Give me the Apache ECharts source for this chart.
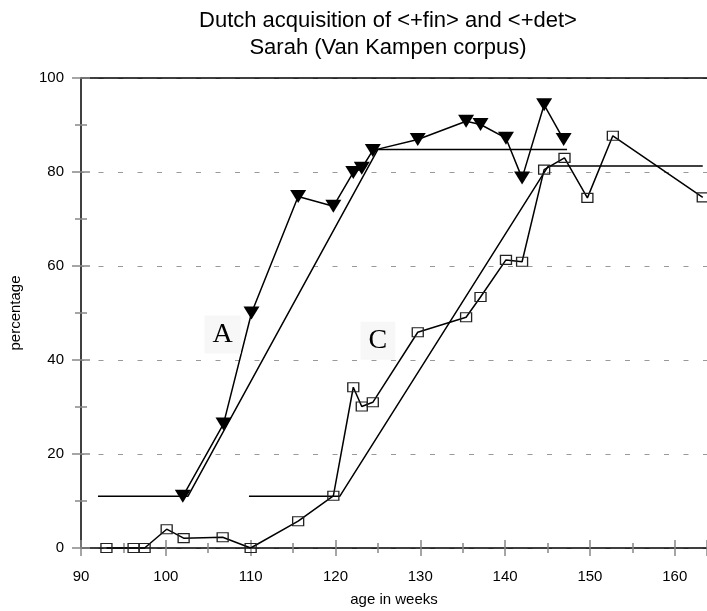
<!DOCTYPE html>
<html>
<head>
<meta charset="utf-8">
<script src="https://cdn.jsdelivr.net/npm/echarts@6/dist/echarts.min.js"></script>
<style>html,body{margin:0;padding:0;background:#fff;}#main{width:707px;height:611px;}</style>
</head>
<body>
<div id="main"></div>
<script>
// Series A (<+fin>, filled triangles)
const weeksA = [102.0, 106.8, 110.1, 115.6, 119.75, 122.1, 123.1, 124.4, 129.7, 135.4, 137.1, 140.1, 142.0, 144.6, 146.9];
const pctA   = [11.0, 26.4, 50.0, 74.8, 72.7, 79.9, 80.8, 84.6, 86.9, 90.8, 90.1, 87.2, 78.7, 94.3, 86.9];
// Series C (<+det>, open squares)
const weeksC = [93.0, 96.2, 97.5, 100.1, 102.1, 106.7, 110.0, 115.6, 119.75, 122.1, 123.1, 124.4, 129.7, 135.4, 137.1, 140.1, 142.0, 144.6, 147.0, 149.7, 152.7, 163.3];
const pctC   = [0, 0, 0, 4.0, 2.1, 2.3, 0, 5.7, 11.1, 34.2, 30.1, 31.0, 45.9, 49.1, 53.4, 61.3, 60.9, 80.5, 83.0, 74.5, 87.7, 74.6];
// Fitted step curves
const trendAWeeks = [92.0, 102.6, 125.0, 147.3];
const trendAPct   = [11, 11, 84.8, 84.8];
const trendCWeeks = [109.8, 120.5, 145.1, 163.3];
const trendCPct   = [11, 11, 81.3, 81.3];
// Annotation labels
const labelNames = ['A', 'C'];
const labelWeeks = [106.7, 125.0];
const labelPct   = [45.4, 44.1];
// Ticks
const xTicks = [90, 100, 110, 120, 130, 140, 150, 160];
const yTicks = [0, 20, 40, 60, 80, 100];

const zip = (a, b) => a.map((v, i) => [v, b[i]]);
const FONT = '"Liberation Sans", Arial, sans-serif';
const xMin = xTicks[0], xMax = 163.8;
const yMin = yTicks[0], yMax = yTicks[yTicks.length - 1];

const chart = echarts.init(document.getElementById('main'), null, {renderer: 'canvas'});
const baseX = {type: 'value', min: xMin, max: xMax, interval: 10, position: 'bottom'};
const baseY = {type: 'value', min: yMin, max: yMax, interval: 20, position: 'left'};
const tickStyle = {color: '#888', width: 1.5};

chart.setOption({
  animation: false,
  backgroundColor: '#fff',
  title: {
    text: 'Dutch acquisition of <+fin> and <+det>\nSarah (Van Kampen corpus)',
    left: 383, top: 2, textAlign: 'center',
    textStyle: {fontFamily: FONT, fontSize: 22, fontWeight: 'normal', color: '#000', lineHeight: 27}
  },
  grid: {left: 81, right: 0, top: 78, bottom: 63, containLabel: false, outerBoundsMode: 'none'},
  xAxis: [
    Object.assign({}, baseX, {
      name: 'age in weeks', nameLocation: 'middle', nameGap: 44,
      nameTextStyle: {fontFamily: FONT, fontSize: 15, color: '#000'},
      axisLine: {show: true, lineStyle: {color: '#000', width: 1.5}},
      axisTick: {show: true, length: 8, lineStyle: tickStyle},
      minorTick: {show: true, splitNumber: 2, length: 5, lineStyle: tickStyle},
      axisLabel: {show: true, margin: 21, fontFamily: FONT, fontSize: 15, color: '#000',
                  formatter: v => xTicks.indexOf(v) >= 0 ? String(v) : ''},
      splitLine: {show: false}
    }),
    Object.assign({}, baseX, {
      axisLine: {show: false},
      axisTick: {show: true, inside: true, length: 8, lineStyle: tickStyle},
      minorTick: {show: true, splitNumber: 2, length: 5, lineStyle: tickStyle},
      axisLabel: {show: false}, splitLine: {show: false}
    }),
    Object.assign({}, baseX, {
      position: 'top',
      axisLine: {show: true, lineStyle: {color: '#000', width: 1.5}},
      axisTick: {show: false}, axisLabel: {show: false}, splitLine: {show: false}
    })
  ],
  yAxis: [
    Object.assign({}, baseY, {
      name: 'percentage', nameLocation: 'middle', nameGap: 58, nameRotate: 90,
      nameTextStyle: {fontFamily: FONT, fontSize: 15, color: '#000'},
      axisLine: {show: true, lineStyle: {color: '#000', width: 1.5}},
      axisTick: {show: true, length: 9, lineStyle: tickStyle},
      minorTick: {show: true, splitNumber: 2, length: 6, lineStyle: tickStyle},
      axisLabel: {show: true, margin: 17, fontFamily: FONT, fontSize: 15, color: '#000',
                  formatter: v => yTicks.indexOf(v) >= 0 ? String(v) : ''},
      splitLine: {show: true, lineStyle: {color: '#999', width: 1, type: [5, 14.5], dashOffset: 2}}
    }),
    Object.assign({}, baseY, {
      axisLine: {show: false},
      axisTick: {show: true, inside: true, length: 9, lineStyle: tickStyle},
      minorTick: {show: true, splitNumber: 2, length: 6, lineStyle: tickStyle},
      axisLabel: {show: false}, splitLine: {show: false}
    })
  ],
  series: [
    {
      type: 'line', name: 'trend A', data: zip(trendAWeeks, trendAPct),
      showSymbol: false, symbol: 'none', lineStyle: {color: '#000', width: 1.5}, z: 2, silent: true
    },
    {
      type: 'line', name: 'trend C', data: zip(trendCWeeks, trendCPct),
      showSymbol: false, symbol: 'none', lineStyle: {color: '#000', width: 1.5}, z: 2, silent: true
    },
    {
      type: 'line', name: 'C', data: zip(weeksC, pctC),
      symbol: 'rect', symbolSize: [11, 9], showAllSymbol: true,
      itemStyle: {color: 'rgba(255,255,255,0)', borderColor: '#222', borderWidth: 1.2},
      lineStyle: {color: '#000', width: 1.5}, z: 3, clip: false,
      markPoint: {
        symbol: 'rect', symbolSize: 1,
        itemStyle: {color: 'rgba(0,0,0,0)'},
        label: {show: true, position: 'inside', fontFamily: '"Liberation Serif", "Times New Roman", serif',
                fontSize: 28, color: '#000', backgroundColor: '#f7f7f7', padding: [6, 8, 4, 8],
                formatter: p => p.name},
        data: labelNames.map((n, i) => ({name: n, coord: [labelWeeks[i], labelPct[i]]}))
      }
    },
    {
      type: 'line', name: 'A', data: zip(weeksA, pctA),
      symbol: 'triangle', symbolRotate: 180, symbolSize: [16, 13], showAllSymbol: true,
      itemStyle: {color: '#000'},
      lineStyle: {color: '#000', width: 1.5}, z: 4
    }
  ]
});
</script>
</body>
</html>
